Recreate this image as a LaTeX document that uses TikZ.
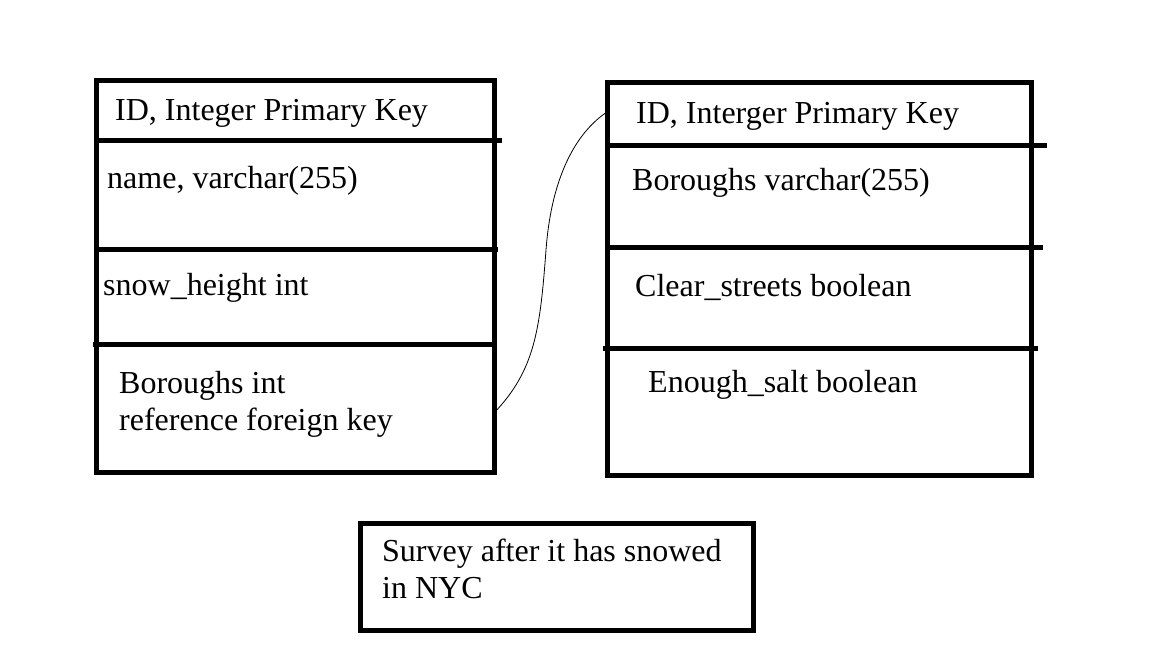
\documentclass[tikz,border=0pt]{standalone}
\usepackage{fontspec}
\setmainfont{Liberation Serif}
\usepackage{tikz}

\begin{document}
\begin{tikzpicture}[x=1pt, y=-1pt]
    % Define the styles for the tables, rows and fields
    \tikzstyle{table} = [rectangle, draw, line width=5pt, inner sep=0pt, outer sep=0pt, anchor=north west]
    \tikzstyle{divider} = [draw, line width=5pt]
    \tikzstyle{field} = [anchor=base west, inner sep=0pt, align=left, font=\fontsize{32}{37}\selectfont]
    \tikzstyle{link} = [draw, line width=0.8pt]

    \useasboundingbox (0,0) rectangle (1152,648);

    % Place the tables
    \node [table, minimum width=398pt, minimum height=392pt] (survey) at (96,80) {};
    \node [table, minimum width=424pt, minimum height=393pt] (boroughs) at (607,82) {};
    \node [table, minimum width=393pt, minimum height=107pt] (caption) at (360,523) {};

    % Row dividers
    \path [divider] (96,140) -- (502,140);
    \path [divider] (96,249) -- (498,249);
    \path [divider] (93,344) -- (494,344);
    \path [divider] (607,145) -- (1047,145);
    \path [divider] (607,247) -- (1043,247);
    \path [divider] (603,348) -- (1038,348);

    % Fields of the survey table
    \node [field] (surveyid) at (115,120) {ID, Integer Primary Key};
    \node [field] (surveyname) at (107,188) {name, varchar(255)};
    \node [field] (surveysnow) at (103,295) {snow\_height int};
    \node [field] (surveyboro) at (119,430) {Boroughs int\\reference foreign key};

    % Fields of the boroughs table
    \node [field] (boroid) at (636,123) {ID, Interger Primary Key};
    \node [field] (boroname) at (632,190) {Boroughs varchar(255)};
    \node [field] (boroclear) at (635,296) {Clear\_streets boolean};
    \node [field] (borosalt) at (648,392) {Enough\_salt boolean};

    % Caption
    \node [field] (captiontext) at (382,598) {Survey after it has snowed\\in NYC};

    % Connect the foreign key to the primary key
    \coordinate (fk) at ([yshift=59pt]survey.south east);
    \coordinate (pk) at ([yshift=-30pt]boroughs.north west);
    \path [link] (fk) .. controls (535,370) and (540,330) .. (546,250)
        .. controls (552,170) and (580,130) .. (pk);
\end{tikzpicture}
\end{document}
